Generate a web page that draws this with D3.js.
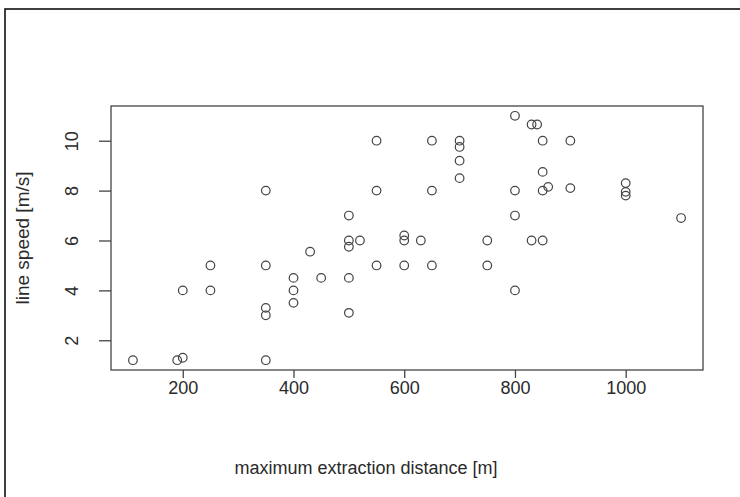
<!DOCTYPE html>
<html>
<head>
<meta charset="utf-8">
<script src="https://cdn.jsdelivr.net/npm/d3@7"></script>
<style>
  body { margin: 0; background: #fff; }
  text { font-family: "Liberation Sans", Arial, sans-serif; fill: #2a2a2a; }
</style>
</head>
<body>
<div id="chart"></div>
<script>
// data
const distance = [110, 190, 200, 200, 250, 250, 350, 350, 350, 350, 350,
  400, 400, 400, 430, 450, 500, 500, 500, 500, 500, 520,
  550, 550, 550, 600, 600, 600, 630, 650, 650, 650,
  700, 700, 700, 700, 750, 750, 800, 800, 800, 800,
  830, 840, 850, 850, 850, 860, 830, 850, 900, 900,
  1000, 1000, 1000, 1100];
const speed = [1.2, 1.2, 1.3, 4, 4, 5, 8, 5, 3.3, 3, 1.2,
  4.5, 4, 3.5, 5.55, 4.5, 7, 6, 5.75, 4.5, 3.1, 6,
  10, 8, 5, 6.2, 6, 5, 6, 10, 8, 5,
  10, 9.75, 9.2, 8.5, 6, 5, 11, 8, 7, 4,
  10.65, 10.65, 10, 8.75, 8, 8.15, 6, 6, 10, 8.1,
  8.3, 7.95, 7.8, 6.9];
const xTicks = [200, 400, 600, 800, 1000];
const yTicks = [2, 4, 6, 8, 10];

const W = 740, H = 497;
const box = {left: 111, right: 703, top: 106, bottom: 370};

// R style: data range padded by 4% on each side
const pad = (e) => { const r = e[1] - e[0]; return [e[0] - 0.04 * r, e[1] + 0.04 * r]; };

const x = d3.scaleLinear().domain(pad(d3.extent(distance))).range([box.left, box.right]);
const y = d3.scaleLinear().domain(pad(d3.extent(speed))).range([box.bottom, box.top]);

const svg = d3.select('#chart').append('svg')
  .attr('width', W).attr('height', H);

// outer frame
svg.append('rect')
  .attr('x', 5).attr('y', 9)
  .attr('width', W + 20).attr('height', H + 20)
  .attr('fill', 'none').attr('stroke', '#111').attr('stroke-width', 1.6);

// plot box
svg.append('rect')
  .attr('x', box.left).attr('y', box.top)
  .attr('width', box.right - box.left).attr('height', box.bottom - box.top)
  .attr('fill', 'none').attr('stroke', '#444').attr('stroke-width', 1.3);

// x axis
const gx = svg.append('g')
  .attr('transform', `translate(0,${box.bottom})`)
  .call(d3.axisBottom(x).tickValues(xTicks).tickSize(8).tickPadding(3).tickFormat(d3.format('d')));
gx.select('.domain').remove();
gx.selectAll('line').attr('stroke', '#444').attr('stroke-width', 1.3);
gx.selectAll('text').attr('font-size', 18).attr('fill', '#2a2a2a');

// y axis, labels turned like base R
const gy = svg.append('g')
  .attr('transform', `translate(${box.left},0)`)
  .call(d3.axisLeft(y).tickValues(yTicks).tickSize(12).tickFormat(d3.format('d')));
gy.select('.domain').remove();
gy.selectAll('line').attr('stroke', '#444').attr('stroke-width', 1.3);
gy.selectAll('text')
  .attr('x', null).attr('dy', null)
  .attr('text-anchor', 'middle')
  .attr('font-size', 18).attr('fill', '#2a2a2a')
  .attr('transform', 'translate(-33,0) rotate(-90)');

// axis titles
svg.append('text')
  .attr('x', 366).attr('y', 474)
  .attr('text-anchor', 'middle').attr('font-size', 18)
  .text('maximum extraction distance [m]');

svg.append('text')
  .attr('transform', 'translate(29,238) rotate(-90)')
  .attr('text-anchor', 'middle').attr('font-size', 19)
  .text('line speed [m/s]');

// points
svg.append('g').selectAll('circle')
  .data(distance.map((d, i) => ({d, s: speed[i]})))
  .join('circle')
  .attr('cx', p => x(p.d))
  .attr('cy', p => y(p.s))
  .attr('r', 4.3)
  .attr('fill', 'none')
  .attr('stroke', '#444')
  .attr('stroke-width', 1.2);
</script>
</body>
</html>
